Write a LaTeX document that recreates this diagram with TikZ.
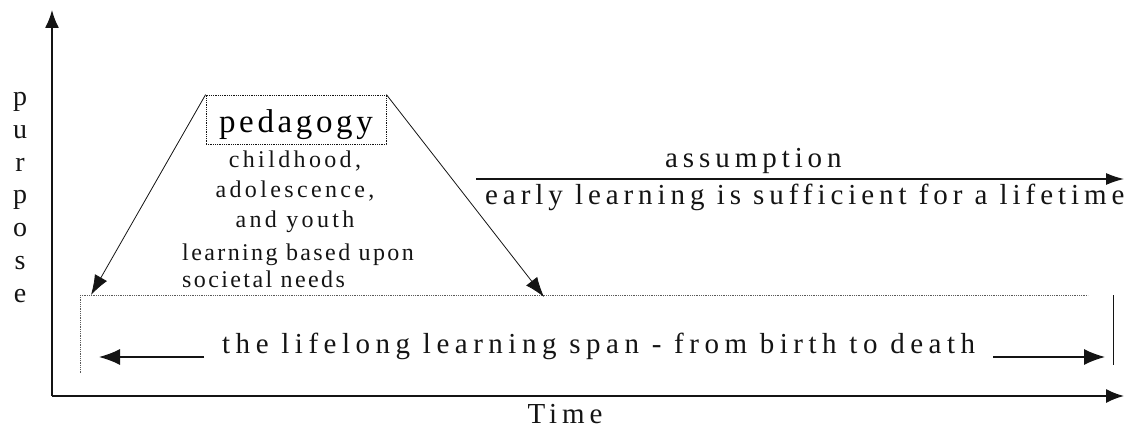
\documentclass[tikz,border=0pt]{standalone}
\usepackage{fontspec}
\setmainfont{Liberation Serif}
\newfontfamily\widefam[LetterSpace=19]{Liberation Serif}
\newfontfamily\midfam[LetterSpace=17]{Liberation Serif}
\newfontfamily\agefam[LetterSpace=14]{Liberation Serif}
\newfontfamily\tightfam[LetterSpace=10]{Liberation Serif}
\newfontfamily\pedfam[LetterSpace=11]{Liberation Serif}
\usepackage{tikz}
\usetikzlibrary{arrows.meta,positioning}
\definecolor{ink}{RGB}{20,20,20}
\definecolor{dotgray}{RGB}{90,90,90}
\tikzset{axis/.style={-{Latex[length=18pt,width=14pt]},line width=1.6pt,draw=ink},pointer/.style={-{Latex[length=20pt,width=14pt]},line width=0.8pt,draw=ink},spanarrow/.style={-{Latex[length=21pt,width=16pt]},line width=1.3pt,draw=ink},floor/.style={densely dotted,line width=0.8pt,draw=dotgray},pedbox/.style={draw=ink,densely dotted,line width=0.8pt,minimum width=180pt,minimum height=49pt,inner sep=0pt,text height=27pt,text depth=2pt,font=\fontsize{33}{36}\pedfam},big/.style={inner sep=0pt,font=\fontsize{29}{32}\midfam,text=ink},small/.style={inner sep=0pt,font=\fontsize{24}{30}\agefam,text=ink}}

\begin{document}
\begin{tikzpicture}[x=1pt,y=-1pt]
\useasboundingbox (0,0) rectangle (1145,428);
% axes
\coordinate (O) at (52,396);
\coordinate (ytop) at (52,10);
\coordinate (xend) at (1124,396);
\draw[axis] (O)--(ytop);\draw[axis] (O)--(xend);
\node[big,anchor=base] (time) at (565,423) {Time};
\node[inner sep=0pt,font=\fontsize{28}{32.7}\selectfont,align=center,anchor=base,text=ink] (purp) at (20,302) {p\\u\\r\\p\\o\\s\\e};
% pedagogy and its span
\node[pedbox] (ped) at (296,119.5) {pedagogy};
\node[small,align=center,anchor=base] (ages) at (295,227) {childhood,\\adolescence,\\and youth};
\node[small,font=\fontsize{24}{27}\tightfam,align=left,anchor=base west] (needs) at (182,287) {learning based upon\\societal needs};
\coordinate (bl) at (80,295);\coordinate (br) at (1088,295);
\coordinate (blow) at (80,373);
\coordinate (rtop) at (1113,295);\coordinate (rbot) at (1113,365);
\coordinate (lhit) at (91,295);\coordinate (rhit) at (544,297);
\draw[floor] (bl)--(br);\draw[floor] (bl)--(blow);
\draw[line width=1pt,draw=ink] (rtop)--(rbot);
\draw[pointer] (ped.north west)--(lhit);\draw[pointer] (ped.north east)--(rhit);
% assumption
\node[big,anchor=base west] (assum) at (665,167) {assumption};
\node[big,anchor=base west] (early) at (485,204) {early learning is sufficient for a lifetime};
\coordinate (astart) at (476,179);\coordinate (aend) at (1124,179);
\draw[spanarrow,-{Latex[length=18pt,width=12pt]}] (astart)--(aend);
% lifelong span
\node[big,font=\fontsize{29}{32}\widefam,anchor=base west,inner xsep=18pt] (span) at (204,353) {the lifelong learning span - from birth to death};
\coordinate (lend) at (99,357);\coordinate (rend) at (1105,357);
\draw[spanarrow] ([yshift=-4pt]span.base west)--(lend);
\draw[spanarrow] ([yshift=-4pt]span.base east)--(rend);
\end{tikzpicture}
\end{document}
